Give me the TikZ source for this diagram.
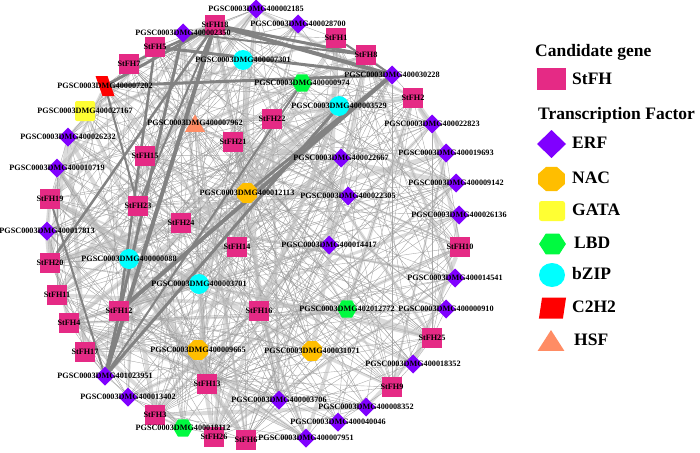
\documentclass[tikz,border=0pt]{standalone}
\usepackage{fontspec}
\setmainfont{Liberation Serif}
\usetikzlibrary{shapes.geometric}
\pgfdeclarelayer{bg}
\pgfsetlayers{bg,main}
\definecolor{fhcol}{RGB}{229,42,133}
\definecolor{erfcol}{RGB}{128,0,255}
\definecolor{naccol}{RGB}{255,190,0}
\definecolor{gatacol}{RGB}{255,255,51}
\definecolor{lbdcol}{RGB}{0,250,64}
\definecolor{bzipcol}{RGB}{0,255,255}
\definecolor{c2h2col}{RGB}{255,0,0}
\definecolor{hsfcol}{RGB}{255,140,100}
\definecolor{edgecol}{RGB}{150,150,150}
\definecolor{bandcol}{RGB}{190,190,190}
\definecolor{thickcol}{RGB}{130,130,130}
\tikzset{
 base/.style={inner sep=0pt, outer sep=0pt, draw=none},
 fh/.style={base, rectangle, fill=fhcol, minimum size=20pt},
 erf/.style={base, diamond, fill=erfcol, minimum width=19pt, minimum height=19pt},
 nac/.style={base, regular polygon, regular polygon sides=8, fill=naccol, minimum size=21.5pt},
 gata/.style={base, rectangle, rounded corners=2pt, fill=gatacol, minimum size=20pt},
 lbd/.style={base, regular polygon, regular polygon sides=6, fill=lbdcol, minimum size=20pt},
 bzip/.style={base, circle, fill=bzipcol, minimum size=20pt},
 c2h2/.style={base, rectangle, fill=c2h2col, minimum width=12pt, minimum height=20pt, xslant=-0.35},
 hsf/.style={base, regular polygon, regular polygon sides=3, fill=hsfcol, minimum size=23pt},
 lbl/.style={inner sep=0pt, font=\fontsize{8.2}{9}\selectfont\bfseries},
 thinedge/.style={draw=edgecol, line width=0.4pt, opacity=0.8},
 band/.style={draw=bandcol, opacity=0.55},
 heavy/.style={draw=thickcol},
 leg/.style={anchor=west, inner sep=0pt, font=\fontsize{17.5}{20}\selectfont\bfseries, text height=12pt, text depth=3.5pt},
}
\newcommand\gnode[4]{\node[#1] (#2) at (#3) {}; \node[lbl] (#2l) at (#3) {#4};}
\begin{document}
\begin{tikzpicture}[x=1pt,y=-1pt]
\useasboundingbox (0,0) rectangle (700,452);
% candidate genes
\gnode{fh}{s1}{336,38}{StFH1}
\gnode{fh}{s2}{413,98}{StFH2}
\gnode{fh}{s3}{155,415}{StFH3}
\gnode{fh}{s4}{69,323}{StFH4}
\gnode{fh}{s5}{155,47}{StFH5}
\gnode{fh}{s6}{246,440}{StFH6}
\gnode{fh}{s7}{129,64}{StFH7}
\gnode{fh}{s8}{366,55}{StFH8}
\gnode{fh}{s9}{392,387}{StFH9}
\gnode{fh}{s10}{460,247}{StFH10}
\gnode{fh}{s11}{57,295}{StFH11}
\gnode{fh}{s12}{119,311}{StFH12}
\gnode{fh}{s13}{207,384}{StFH13}
\gnode{fh}{s14}{237,247}{StFH14}
\gnode{fh}{s15}{145,156}{StFH15}
\gnode{fh}{s16}{259,311}{StFH16}
\gnode{fh}{s17}{85,352}{StFH17}
\gnode{fh}{s18}{215,25}{StFH18}
\gnode{fh}{s19}{50,199}{StFH19}
\gnode{fh}{s20}{50,263}{StFH20}
\gnode{fh}{s21}{233,142}{StFH21}
\gnode{fh}{s22}{272,119}{StFH22}
\gnode{fh}{s23}{138,206}{StFH23}
\gnode{fh}{s24}{181,223}{StFH24}
\gnode{fh}{s25}{432,338}{StFH25}
\gnode{fh}{s26}{214,437}{StFH26}
% ERF
\gnode{erf}{d2185}{256,9}{PGSC0003DMG400002185}
\gnode{erf}{d2350}{183,33}{PGSC0003DMG400002350}
\gnode{erf}{d28700}{298,24}{PGSC0003DMG400028700}
\gnode{erf}{d30228}{392,75}{PGSC0003DMG400030228}
\gnode{erf}{d26232}{68,137}{PGSC0003DMG400026232}
\gnode{erf}{d22823}{432,124}{PGSC0003DMG400022823}
\gnode{erf}{d10719}{57,168}{PGSC0003DMG400010719}
\gnode{erf}{d19693}{446,153}{PGSC0003DMG400019693}
\gnode{erf}{d22667}{341,158}{PGSC0003DMG400022667}
\gnode{erf}{d9142}{456,183}{PGSC0003DMG400009142}
\gnode{erf}{d22305}{348,196}{PGSC0003DMG400022305}
\gnode{erf}{d17813}{47,231}{PGSC0003DMG400017813}
\gnode{erf}{d26136}{459,215}{PGSC0003DMG400026136}
\gnode{erf}{d14417}{329,245}{PGSC0003DMG400014417}
\gnode{erf}{d14541}{455,278}{PGSC0003DMG400014541}
\gnode{erf}{d910}{446,309}{PGSC0003DMG400000910}
\gnode{erf}{d18352}{413,364}{PGSC0003DMG400018352}
\gnode{erf}{d23951}{105,376}{PGSC0003DMG401023951}
\gnode{erf}{d13402}{128,397}{PGSC0003DMG400013402}
\gnode{erf}{d3706}{279,400}{PGSC0003DMG400003706}
\gnode{erf}{d8352}{366,407}{PGSC0003DMG400008352}
\gnode{erf}{d40046}{338,422}{PGSC0003DMG400040046}
\gnode{erf}{d7951}{306,438}{PGSC0003DMG400007951}
% NAC
\gnode{nac}{d12113}{247,193}{PGSC0003DMG400012113}
\gnode{nac}{d9665}{198,350}{PGSC0003DMG400009665}
\gnode{nac}{d31071}{312,351}{PGSC0003DMG400031071}
% GATA
\gnode{gata}{d27167}{85,111}{PGSC0003DMG400027167}
% LBD
\gnode{lbd}{d974}{302,83}{PGSC0003DMG400000974}
\gnode{lbd}{d2772}{347,309}{PGSC0003DMG402012772}
\gnode{lbd}{d18112}{183,428}{PGSC0003DMG400018112}
% bZIP
\gnode{bzip}{d7301}{243,60}{PGSC0003DMG400007301}
\gnode{bzip}{d3529}{339,106}{PGSC0003DMG400003529}
\gnode{bzip}{d88}{129,259}{PGSC0003DMG400000088}
\gnode{bzip}{d3701}{199,284}{PGSC0003DMG400003701}
% C2H2
\gnode{c2h2}{d7202}{105,86}{PGSC0003DMG400007202}
% HSF
\node[hsf] (d7962) at (195,126) {};
\node[lbl] (d7962l) at (195,123) {PGSC0003DMG400007962};

\pgfmathsetseed{4242}
\begin{pgfonlayer}{bg}
\foreach \a in {d2185,d2350,d28700,d30228,d26232,d22823,d10719,d19693,d22667,d9142,d22305,d17813,d26136,d14417,d14541,d910,d18352,d23951,d13402,d3706,d8352,d40046,d7951,d12113,d9665,d31071,d27167,d974,d2772,d18112,d7301,d3529,d88,d3701,d7202,d7962} {
  \foreach \b in {1,...,26} {
    \pgfmathsetmacro\r{rnd}
    \ifdim\r pt<0.45pt \draw[thinedge] (\a) -- (s\b); \fi
    \pgfmathsetmacro\q{rnd}
    \ifdim\q pt<0.08pt \pgfmathsetmacro\wd{2+3*rnd}\draw[band, line width=\wd pt] (\a) -- (s\b); \fi
  }
}
\foreach \a/\b/\w in {s18/d23951/4, d2350/d23951/3, d30228/s12/4, d3529/d23951/3, s18/d30228/4, s18/s8/3, s5/d30228/3, d7202/d30228/3, d7202/s18/3, s7/s18/2.5, s18/s20/2.5, s18/s23/2, s1/d30228/2, d2350/s8/2, s5/s12/2.5, d23951/s19/2, d974/d23951/2, d12113/d30228/3, d7202/s23/2} {
  \draw[heavy, line width=\w pt] (\a) -- (\b);
}
\end{pgfonlayer}

% legend
\node[leg] (lg1) at (535,52) {Candidate gene};
\node[base, rectangle, fill=fhcol, minimum width=29pt, minimum height=22pt] (lgs) at (551.5,79) {};
\node[leg] (lgst) at (572,80) {StFH};
\node[leg] (lg2) at (538,115) {Transcription Factor};
\node[base, diamond, fill=erfcol, minimum width=29pt, minimum height=28pt] (lge) at (551.5,144) {};
\node[leg] (lget) at (572,144) {ERF};
\node[base, regular polygon, regular polygon sides=8, fill=naccol, minimum size=26pt, xscale=1.12] (lgn) at (551.5,179) {};
\node[leg] (lgnt) at (572,179) {NAC};
\node[base, rectangle, rounded corners=2.5pt, fill=gatacol, minimum width=26pt, minimum height=20pt] (lgg) at (552,211) {};
\node[leg] (lggt) at (572,211) {GATA};
\node[base, regular polygon, regular polygon sides=6, fill=lbdcol, minimum size=24pt, xscale=1.12] (lgl) at (552.5,244) {};
\node[leg] (lglt) at (574,244) {LBD};
\node[base, ellipse, fill=bzipcol, minimum width=26pt, minimum height=24pt] (lgb) at (552,275) {};
\node[leg] (lgbt) at (572,275) {bZIP};
\node[base, rectangle, fill=c2h2col, minimum width=24pt, minimum height=21pt, xslant=0.15] (lgc) at (552.5,308) {};
\node[leg] (lgct) at (572,308) {C2H2};
\node[base, regular polygon, regular polygon sides=3, fill=hsfcol, minimum size=31pt, yscale=0.9] (lgh) at (551,344) {};
\node[leg] (lght) at (574,341) {HSF};
\end{tikzpicture}
\end{document}
